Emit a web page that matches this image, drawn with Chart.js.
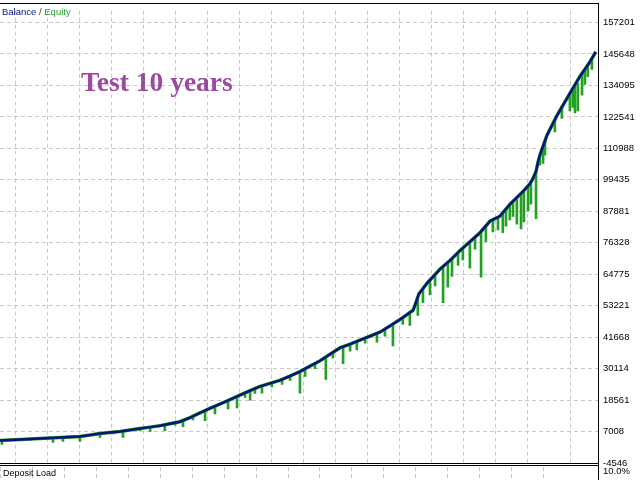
<!DOCTYPE html>
<html>
<head>
<meta charset="utf-8">
<script src="https://cdn.jsdelivr.net/npm/chart.js@4.4.1/dist/chart.umd.min.js"></script>
<style>
    body { margin: 0; background: #fff; }
    #wrap { position: relative; width: 640px; height: 480px; overflow: hidden; }
    .lbl { position: absolute; white-space: nowrap; font-family: "Liberation Sans", Arial, sans-serif; }
    #legend { left: 2px; top: 7px; font-size: 9.5px; line-height: 10px; }
    #title { left: 81px; top: 68px; font-family: "Liberation Serif", "Times New Roman", serif; font-weight: bold; font-size: 27.5px; line-height: 27px; color: #9c4aa0; }
    #deposit { left: 3px; top: 468px; font-size: 9px; line-height: 10px; color: #000; }
    #pct { left: 603px; top: 466px; font-size: 9.5px; line-height: 10px; color: #000; }
</style>
</head>
<body>
<div id="wrap">
    <canvas id="equityChart" width="640" height="480"></canvas>
    <div class="lbl" id="legend"><span style="color:#0a1478">Balance</span> <span style="color:#333">/</span> <span style="color:#22a022">Equity</span></div>
    <div class="lbl" id="title">Test 10 years</div>
    <div class="lbl" id="deposit">Deposit Load</div>
    <div class="lbl" id="pct">10.0%</div>
</div>
<script>
// trade number / balance
const trades = [0, 31, 63, 94, 125, 157, 188, 219, 250, 282, 313, 344, 376, 407, 438, 470, 501, 532, 563, 595,
    626, 657, 689, 720, 751, 783, 814, 845, 876, 908, 939, 970, 1002, 1033, 1064, 1096, 1127, 1158, 1189, 1221,
    1252, 1268, 1283, 1293, 1302, 1311, 1337, 1377, 1409, 1440, 1471, 1502, 1534, 1565, 1596, 1637, 1659, 1668,
    1678, 1684, 1690, 1712, 1743, 1784, 1815, 1847, 1865];
const balance = [3760, 3930, 4120, 4290, 4480, 4660, 4840, 5020, 5200, 5700, 6290, 6650, 7010, 7550, 8090, 8630, 9170, 9890, 10620, 12100,
    13870, 15500, 17120, 18700, 20370, 22000, 23600, 24700, 25780, 27400, 29030, 31000, 33000, 35400, 37700, 39100, 40580, 42000, 43470, 45800,
    48170, 49400, 50700, 51500, 54300, 57500, 61500, 66580, 69830, 73440, 76690, 79940, 84270, 86070, 90410, 95100, 98000, 99800,
    102500, 105800, 108460, 115700, 122900, 131200, 137300, 142800, 146400];

// equity drawdown spikes: trade, lowest equity, balance at that trade
const spikeTrades = [6, 94, 166, 197, 250, 313, 354, 385, 438, 470, 516, 548, 573, 604, 642, 673, 714, 742, 767, 783,
    798, 820, 851, 883, 908, 939, 955, 986, 1020, 1042, 1074, 1096, 1117, 1143, 1180, 1205, 1230, 1261, 1283, 1308,
    1324, 1346, 1362, 1387, 1402, 1415, 1434, 1449, 1471, 1487, 1506, 1521, 1543, 1559, 1574, 1584, 1596, 1606, 1618, 1631,
    1640, 1653, 1662, 1678, 1690, 1700, 1706, 1737, 1759, 1784, 1793, 1800, 1809, 1822, 1831, 1840, 1853];
const spikeLows = [2310, 3700, 3040, 3400, 3400, 4840, 6100, 4840, 7300, 7010, 7370, 9300, 8800, 11300, 10980, 13500, 15310, 15670, 19500, 18500,
    21000, 21090, 23400, 24340, 25800, 21090, 27230, 30100, 26140, 34000, 31920, 36500, 37000, 39500, 39860, 42000, 38400, 46300, 46000, 49610,
    54300, 57200, 60500, 54300, 60000, 64000, 68020, 70000, 67000, 74000, 63690, 76690, 80300, 81000, 80000, 82460, 84700, 86000, 83190, 81380,
    84000, 88000, 90500, 85160, 104850, 105500, 108500, 117000, 122000, 124700, 126000, 124000, 124700, 130500, 134460, 137340, 140000];
const spikeHighs = [3780, 4290, 4700, 4890, 5200, 6290, 6750, 7150, 8090, 8630, 9500, 10200, 11000, 12500, 14700, 16300, 18400, 19900, 21200, 22000,
    22800, 23800, 24900, 26100, 27400, 29030, 30000, 32000, 34400, 36000, 38100, 39100, 40100, 41300, 43000, 44600, 46500, 48900, 50700, 56500,
    59500, 62700, 64700, 67600, 69200, 70500, 72700, 74400, 76690, 78300, 80300, 82500, 84800, 85700, 87400, 88700, 90400, 91500, 93000, 94300,
    95500, 97300, 98600, 102500, 108460, 111500, 113600, 121500, 126500, 131200, 132500, 133700, 135000, 138500, 140200, 141700, 143500];

const yTicks = [-4546, 7008, 18561, 30114, 41668, 53221, 64775, 76328, 87881, 99435, 110988, 122541, 134095, 145648, 157201];

const balancePts = trades.map((t, i) => ({ x: t, y: balance[i] }));
const spikePts = spikeTrades.map((t, i) => ({ x: t, y: [spikeLows[i], spikeHighs[i]] }));

const framePlugin = {
    id: "frame",
    afterDraw(chart) {
        const ctx = chart.ctx;
        const a = chart.chartArea;
        ctx.save();
        // dashed verticals in deposit load panel
        ctx.strokeStyle = "#c8c8c8";
        ctx.lineWidth = 1;
        ctx.setLineDash([4, 3]);
        chart.scales.x.ticks.forEach(t => {
            const px = Math.round(chart.scales.x.getPixelForValue(t.value)) + 0.5;
            ctx.beginPath();
            ctx.moveTo(px, 467);
            ctx.lineTo(px, 480);
            ctx.stroke();
        });
        ctx.setLineDash([]);
        ctx.strokeStyle = "#000";
        ctx.beginPath();
        ctx.moveTo(0, 3.5); ctx.lineTo(a.right + 0.5, 3.5);
        ctx.moveTo(a.right + 0.5, 3); ctx.lineTo(a.right + 0.5, 480);
        ctx.moveTo(0, 463.5); ctx.lineTo(a.right + 0.5, 463.5);
        ctx.moveTo(0, 465.5); ctx.lineTo(a.right + 0.5, 465.5);
        ctx.stroke();
        ctx.restore();
    }
};

new Chart(document.getElementById("equityChart"), {
    type: "line",
    data: {
        datasets: [{
            type: "line",
            label: "Balance",
            data: balancePts,
            borderColor: "#0a1478",
            borderWidth: 2.5,
            pointRadius: 0,
            tension: 0,
            order: 1
        }, {
            type: "line",
            label: "Equity",
            data: balancePts,
            borderColor: "#22a022",
            borderWidth: 3.5,
            pointRadius: 0,
            tension: 0,
            order: 2
        }, {
            type: "bar",
            label: "Drawdown",
            data: spikePts,
            backgroundColor: "#22a022",
            barThickness: 2,
            order: 3
        }]
    },
    options: {
        responsive: false,
        animation: false,
        layout: { padding: { top: 3, bottom: 17, left: 0, right: 0 } },
        plugins: { legend: { display: false }, tooltip: { enabled: false } },
        scales: {
            x: {
                type: "linear",
                min: 0,
                max: 1872,
                offset: false,
                ticks: { display: false, stepSize: 100 },
                grid: { color: "#c8c8c8", drawTicks: false },
                border: { display: false, dash: [4, 3] },
                afterFit: s => { s.height = 0; }
            },
            y: {
                position: "right",
                min: -4546,
                max: 161533,
                afterBuildTicks: s => { s.ticks = yTicks.map(v => ({ value: v })); },
                afterFit: s => { s.width = 42; },
                ticks: {
                    color: "#000",
                    padding: 5,
                    font: { family: "'Liberation Sans', Arial, sans-serif", size: 9.5 },
                    callback: v => String(v)
                },
                grid: { color: "#c8c8c8", drawTicks: false },
                border: { display: false, dash: [4, 3] }
            }
        }
    },
    plugins: [framePlugin]
});
</script>
</body>
</html>
